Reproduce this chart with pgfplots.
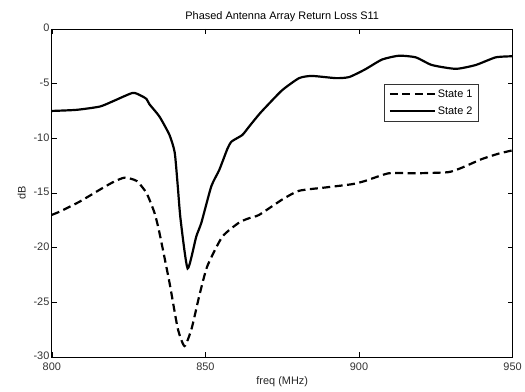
\documentclass[border=0pt]{standalone}
\usepackage{pgfplots}
\pgfplotsset{compat=1.18}
\usepackage{fontspec}
\setmainfont{Liberation Sans}
\begin{document}
\begin{tikzpicture}[x=1bp,y=1bp]
\path (0,0) rectangle (525,393);
\begin{axis}[
  at={(52bp,35bp)}, anchor=south west,
  scale only axis, width=462bp, height=329bp,
  xmin=800, xmax=950, ymin=-30, ymax=0,
  xtick={800,850,900,950}, ytick={-30,-25,-20,-15,-10,-5,0},
  tick align=inside, major tick length=5bp,
  tick style={black, line width=0.6bp},
  axis line style={line width=0.8bp},
  /pgf/number format/assume math mode=true,
  ticklabel style={font=\fontsize{11}{13}\selectfont, text=black!80},
  xticklabel style={yshift=-2bp},
  yticklabel style={xshift=1bp, yshift=1bp},
  label style={font=\fontsize{11}{13}\selectfont, text=black!85},
  title style={font=\fontsize{11}{13}\selectfont, yshift=-2bp},
  title={Phased Antenna Array Return Loss S11},
  xlabel={freq (MHz)}, ylabel={dB},
  xlabel style={yshift=0bp},
  ylabel style={yshift=1bp},
  legend style={at={(0.722,0.833)}, anchor=north west, draw=black!80, line width=0.6bp,
    font=\fontsize{11}{13}\selectfont, inner xsep=4bp, inner ysep=3.5bp, row sep=4bp},
  legend cell align=left,
  legend image code/.code={\draw[#1] (-4bp,0bp) -- (41bp,0bp);},
]
\addplot[black, line width=2.2bp, dash pattern=on 8bp off 4.5bp, smooth, tension=0.35] coordinates {
(800,-17.0) (802.6,-16.7) (809,-15.8) (815.6,-14.7) (820,-14.0) (823.7,-13.6) (827.6,-13.9)
(830.8,-15.0) (833.4,-16.8) (835,-18.6) (838.3,-23.2) (841,-27.4) (843.2,-29.0)
(845.5,-27.4) (848,-24.4) (850.6,-21.7) (855.5,-19.0) (861,-17.7) (864.3,-17.3)
(867.5,-17.0) (875,-15.6) (880.5,-14.8) (889,-14.5) (897.7,-14.2) (902,-13.9)
(909.7,-13.2) (918.5,-13.2) (929,-13.1) (933.4,-12.7) (940,-11.9) (945.5,-11.4) (950,-11.1)
};
\addlegendentry{State 1\hspace{12bp}}
\addplot[black, line width=2.2bp, smooth, tension=0.35] coordinates {
(800,-7.5) (808,-7.4) (815.6,-7.1) (820,-6.6) (826.3,-5.85) (829,-6.1) (830.8,-6.4)
(831.8,-6.9) (835,-8.0) (838.3,-9.7) (840,-11.3) (841,-14.4) (841.9,-17.4) (844.2,-21.9)
(847,-19.0) (848.7,-17.7) (851.9,-14.4) (854.5,-12.9) (857.1,-11.0) (858.5,-10.3)
(862,-9.7) (864.3,-8.9) (867.5,-7.8) (869.8,-7.1) (875,-5.6) (880.5,-4.5) (884.7,-4.3)
(892.5,-4.5) (896.8,-4.4) (902,-3.7) (907.5,-2.8) (913,-2.45) (918.5,-2.6) (923.7,-3.3)
(931.5,-3.65) (938,-3.3) (944.5,-2.6) (950,-2.5)
};
\addlegendentry{State 2\hspace{12bp}}
\end{axis}
\end{tikzpicture}
\end{document}
